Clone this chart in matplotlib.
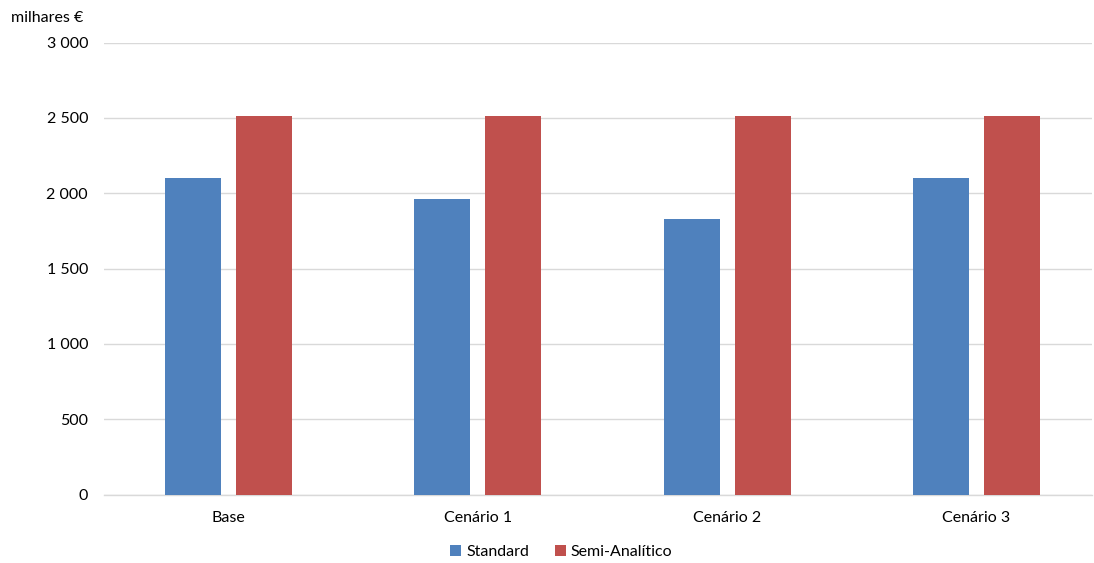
import matplotlib.pyplot as plt
import numpy as np
from matplotlib.ticker import FuncFormatter

plt.rcParams['font.family'] = ['Lato', 'DejaVu Sans']

cenarios = ['Base', 'Cenário 1', 'Cenário 2', 'Cenário 3']
standard = [2098, 1965, 1828, 2098]
semi_analitico = [2513, 2513, 2511, 2513]

cor_standard = '#4F81BD'
cor_semi = '#C0504D'
cor_grelha = '#D9D9D9'

fig = plt.figure(figsize=(10.94, 5.63), dpi=100)
ax = fig.add_axes([0.0951, 0.1213, 0.9029, 0.8032])

x = np.arange(len(cenarios))
largura = 0.225
ax.bar(x - 0.1425, standard, largura, color=cor_standard, label='Standard', zorder=3)
ax.bar(x + 0.1425, semi_analitico, largura, color=cor_semi, label='Semi-Analítico', zorder=3)

ax.set_xlim(-0.5, 3.463)
ax.set_ylim(0, 3000)
ax.set_yticks(range(0, 3001, 500))
ax.yaxis.set_major_formatter(FuncFormatter(lambda v, p: f'{int(v):,}'.replace(',', ' ')))
ax.set_xticks(x)
ax.set_xticklabels(cenarios)

ax.grid(axis='y', color=cor_grelha, linewidth=1, zorder=0)
for lado in ['top', 'right', 'left']:
    ax.spines[lado].set_visible(False)
ax.spines['bottom'].set_color(cor_grelha)
ax.spines['bottom'].set_linewidth(1)
ax.tick_params(axis='both', length=0, labelsize=11.5, colors='#000000')
ax.tick_params(axis='y', pad=11.5)
ax.tick_params(axis='x', pad=12)

fig.text(0.0101, 0.968, 'milhares €', fontsize=11.5, va='center', ha='left')

fig.legend(loc='center', bbox_to_anchor=(0.513, 0.019), ncol=2, frameon=False,
           fontsize=11.5, handlelength=0.7, handleheight=0.7, handletextpad=0.3,
           columnspacing=1.6)

fig.savefig('out.png', dpi=100)
